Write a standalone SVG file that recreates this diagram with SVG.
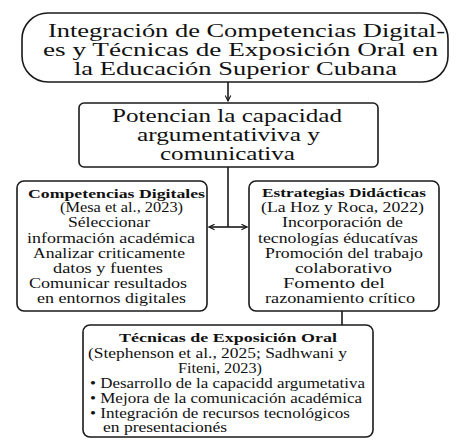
<svg xmlns="http://www.w3.org/2000/svg" width="456" height="443" viewBox="0 0 456 443">
<style>
.box{fill:#fff;stroke:#1a1a1a;stroke-width:1.6}
.t{font-family:"Liberation Serif","Times New Roman",serif;fill:#111}
.big{font-size:18px}
.sm{font-size:14px}
.b{font-weight:bold;font-size:13.5px}
.c{fill:none;stroke:#1a1a1a;stroke-width:1.6}
</style>
<defs>
<marker id="ah" viewBox="0 0 10 10" refX="9" refY="5" markerWidth="7" markerHeight="7" orient="auto" markerUnits="userSpaceOnUse">
<path d="M1,1 L9,5 L1,9" fill="none" stroke="#1a1a1a" stroke-width="1.6"/>
</marker>
</defs>
<rect width="456" height="443" fill="#fff"/>
<g id="connectors">
<line class="c" x1="228" y1="82" x2="228" y2="101" marker-end="url(#ah)"/>
<line class="c" x1="228" y1="167" x2="228" y2="227"/>
<line class="c" x1="228" y1="227" x2="209" y2="227" marker-end="url(#ah)"/>
<line class="c" x1="228" y1="227" x2="247" y2="227" marker-end="url(#ah)"/>
<line class="c" x1="342" y1="311" x2="342" y2="325"/>
</g>
<g id="node-top">
<rect class="box" x="22" y="13" width="426" height="69" rx="26" ry="26"/>
<text class="t big" x="48" y="37" textLength="397" lengthAdjust="spacingAndGlyphs">Integración de Competencias Digital-</text>
<text class="t big" x="43" y="56" textLength="395" lengthAdjust="spacingAndGlyphs">es y Técnicas de Exposición Oral en</text>
<text class="t big" x="74" y="75" textLength="323" lengthAdjust="spacingAndGlyphs">la Educación Superior Cubana</text>
</g>
<g id="node-potencian">
<rect class="box" x="79" y="103" width="299" height="64" rx="5" ry="5"/>
<text class="t big" x="112" y="122" textLength="230" lengthAdjust="spacingAndGlyphs">Potencian la capacidad</text>
<text class="t big" x="137" y="141" textLength="183" lengthAdjust="spacingAndGlyphs">argumentativiva y</text>
<text class="t big" x="160" y="160" textLength="135" lengthAdjust="spacingAndGlyphs">comunicativa</text>
</g>
<g id="node-competencias">
<rect class="box" x="17" y="181" width="190" height="130" rx="7" ry="7"/>
<text class="t b" x="28" y="198" textLength="177" lengthAdjust="spacingAndGlyphs">Competencias Digitales</text>
<text class="t sm" x="60" y="212" textLength="123" lengthAdjust="spacingAndGlyphs">(Mesa et al., 2023)</text>
<text class="t sm" x="68" y="227" textLength="82" lengthAdjust="spacingAndGlyphs">Séleccionar</text>
<text class="t sm" x="27" y="243" textLength="168" lengthAdjust="spacingAndGlyphs">información académica</text>
<text class="t sm" x="33" y="258" textLength="152" lengthAdjust="spacingAndGlyphs">Analizar criticamente</text>
<text class="t sm" x="53" y="273" textLength="110" lengthAdjust="spacingAndGlyphs">datos y fuentes</text>
<text class="t sm" x="29" y="288" textLength="158" lengthAdjust="spacingAndGlyphs">Comunicar resultados</text>
<text class="t sm" x="37" y="303" textLength="149" lengthAdjust="spacingAndGlyphs">en entornos digitales</text>
</g>
<g id="node-estrategias">
<rect class="box" x="249" y="181" width="190" height="130" rx="7" ry="7"/>
<text class="t b" x="262" y="197" textLength="164" lengthAdjust="spacingAndGlyphs">Estrategias Didácticas</text>
<text class="t sm" x="261" y="212" textLength="163" lengthAdjust="spacingAndGlyphs">(La Hoz y Roca, 2022)</text>
<text class="t sm" x="282" y="227" textLength="121" lengthAdjust="spacingAndGlyphs">Incorporación de</text>
<text class="t sm" x="258" y="243" textLength="160" lengthAdjust="spacingAndGlyphs">tecnologías éducatívas</text>
<text class="t sm" x="265" y="258" textLength="158" lengthAdjust="spacingAndGlyphs">Promoción del trabajo</text>
<text class="t sm" x="295" y="273" textLength="97" lengthAdjust="spacingAndGlyphs">colaborativo</text>
<text class="t sm" x="283" y="288" textLength="102" lengthAdjust="spacingAndGlyphs">Fomento del</text>
<text class="t sm" x="265" y="303" textLength="150" lengthAdjust="spacingAndGlyphs">razonamiento crítico</text>
</g>
<g id="node-tecnicas">
<rect class="box" x="83" y="325" width="290" height="112" rx="7" ry="7"/>
<text class="t b" x="119" y="342" textLength="218" lengthAdjust="spacingAndGlyphs">Técnicas de Exposición Oral</text>
<text class="t sm" x="88" y="358" textLength="259" lengthAdjust="spacingAndGlyphs">(Stephenson et al., 2025; Sadhwani y</text>
<text class="t sm" x="178" y="373" textLength="84" lengthAdjust="spacingAndGlyphs">Fiteni, 2023)</text>
<text class="t sm" x="90" y="388" textLength="275" lengthAdjust="spacingAndGlyphs">• Desarrollo de la capacidd argumetativa</text>
<text class="t sm" x="90" y="403" textLength="272" lengthAdjust="spacingAndGlyphs">• Mejora de la comunicación académica</text>
<text class="t sm" x="90" y="418" textLength="260" lengthAdjust="spacingAndGlyphs">• Integración de recursos tecnológicos</text>
<text class="t sm" x="103" y="432" textLength="124" lengthAdjust="spacingAndGlyphs">en presentacionés</text>
</g>
</svg>
